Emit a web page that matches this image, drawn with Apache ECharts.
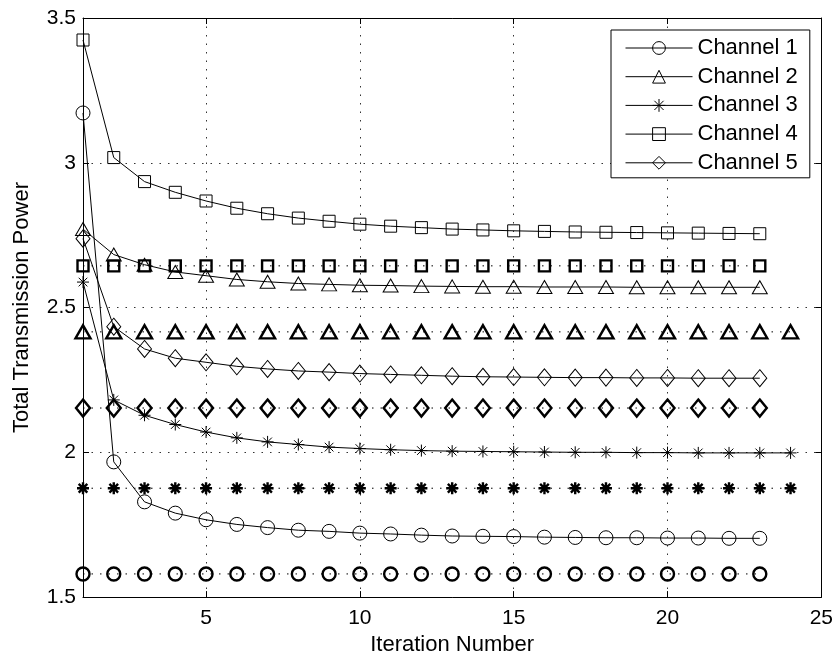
<!DOCTYPE html>
<html><head><meta charset="utf-8">
<script src="https://cdn.jsdelivr.net/npm/echarts@6/dist/echarts.min.js"></script>
<style>html,body{margin:0;padding:0;background:#fff}#c{width:836px;height:661px}</style>
</head><body><div id="c"></div><script>
// ---- data ----
const iter23 = [1,2,3,4,5,6,7,8,9,10,11,12,13,14,15,16,17,18,19,20,21,22,23];
const iter24 = [1,2,3,4,5,6,7,8,9,10,11,12,13,14,15,16,17,18,19,20,21,22,23,24];
const channelNames = ['Channel 1','Channel 2','Channel 3','Channel 4','Channel 5'];
const ch1 = [3.172,1.967,1.829,1.790,1.767,1.751,1.740,1.731,1.727,1.721,1.718,1.714,1.711,1.710,1.709,1.707,1.706,1.705,1.705,1.704,1.704,1.703,1.703];
const ch2 = [2.771,2.683,2.648,2.623,2.610,2.597,2.589,2.583,2.580,2.577,2.576,2.574,2.573,2.572,2.572,2.571,2.571,2.571,2.570,2.570,2.570,2.570,2.570];
const ch3 = [2.588,2.181,2.128,2.096,2.070,2.050,2.036,2.027,2.018,2.013,2.009,2.006,2.004,2.003,2.002,2.001,2.000,2.000,1.999,1.999,1.998,1.998,1.998,1.998];
const ch4 = [3.424,3.018,2.935,2.898,2.868,2.843,2.824,2.809,2.798,2.788,2.781,2.776,2.771,2.768,2.765,2.763,2.761,2.760,2.759,2.758,2.757,2.756,2.755];
const ch5 = [2.738,2.434,2.357,2.325,2.311,2.297,2.288,2.281,2.277,2.272,2.269,2.266,2.263,2.261,2.260,2.259,2.258,2.258,2.257,2.257,2.256,2.256,2.256];
// constant reference levels
const level1 = 1.580, level2 = 2.416, level3 = 1.876, level4 = 2.644, level5 = 2.153;
const xTicks = [5,10,15,20,25];
const xRange = [1,25];
const yRange = [1.5,3.5];
const yStep = 0.5;

// ---- chart ----
const FONT = "'Liberation Sans', Arial, sans-serif";
const starPath = 'path://M0,-1L0,1M-1,0L1,0M-0.72,-0.72L0.72,0.72M-0.72,0.72L0.72,-0.72';
const pairs = (xs, ys) => xs.map((x, i) => [x, ys[i]]);
const constPairs = (xs, v) => xs.map(x => [x, v]);

function mainSeries(name, data, symbol, size) {
  return {
    name, type: 'line', data, symbol, symbolSize: size, showSymbol: true,
    lineStyle: { color: '#000', width: 1 },
    itemStyle: { color: 'rgba(0,0,0,0)', borderColor: '#000', borderWidth: 1 },
    emphasis: { disabled: true }, animation: false, z: 3
  };
}
function levelSeries(name, data, symbol, size) {
  return {
    name, type: 'line', data, symbol, symbolSize: size, showSymbol: true,
    lineStyle: { color: '#000', width: 1, type: [1.5, 7] },
    itemStyle: { color: 'rgba(0,0,0,0)', borderColor: '#000', borderWidth: 2.4 },
    emphasis: { disabled: true }, animation: false, z: 2
  };
}

const axisCommonX = {
  type: 'value', min: xRange[0], max: xRange[1],
  axisLine: { show: true, onZero: false, lineStyle: { color: '#000', width: 1 } },
};
const axisCommonY = {
  type: 'value', min: yRange[0], max: yRange[1], interval: yStep,
  axisLine: { show: true, onZero: false, lineStyle: { color: '#000', width: 1 } },
};

const option = {
  backgroundColor: '#fff',
  animation: false,
  grid: { left: 83, right: 14, top: 18, bottom: 61, containLabel: false },
  xAxis: [
    Object.assign({}, axisCommonX, {
      position: 'bottom',
      name: 'Iteration Number', nameLocation: 'middle', nameGap: 36,
      nameTextStyle: { fontFamily: FONT, fontSize: 22, color: '#000' },
      axisTick: { show: true, inside: true, length: 6, customValues: xTicks, lineStyle: { color: '#000' } },
      axisLabel: { show: true, customValues: xTicks, margin: 11, fontFamily: FONT, fontSize: 21, color: '#000' },
      splitLine: { show: true, lineStyle: { color: '#333', width: 1, type: [1.5, 7] } }
    }),
    Object.assign({}, axisCommonX, {
      position: 'top',
      axisTick: { show: true, inside: true, length: 6, customValues: xTicks, lineStyle: { color: '#000' } },
      axisLabel: { show: false },
      splitLine: { show: false }
    })
  ],
  yAxis: [
    Object.assign({}, axisCommonY, {
      position: 'left',
      name: 'Total Transmission Power', nameLocation: 'middle', nameGap: 50, nameRotate: 90,
      nameTextStyle: { fontFamily: FONT, fontSize: 22, color: '#000' },
      axisTick: { show: true, inside: true, length: 6, lineStyle: { color: '#000' } },
      axisLabel: { show: true, margin: 7, fontFamily: FONT, fontSize: 21, color: '#000' },
      splitLine: { show: true, lineStyle: { color: '#333', width: 1, type: [1.5, 7] } }
    }),
    Object.assign({}, axisCommonY, {
      position: 'right',
      axisTick: { show: true, inside: true, length: 6, lineStyle: { color: '#000' } },
      axisLabel: { show: false },
      splitLine: { show: false }
    })
  ],
  legend: {
    data: channelNames,
    orient: 'vertical', left: 611, top: 30,
    padding: [7, 12, 4, 14],
    itemWidth: 67, itemHeight: 16, itemGap: 6.7,
    backgroundColor: '#fff', borderColor: '#000', borderWidth: 1,
    textStyle: { fontFamily: FONT, fontSize: 22, color: '#000', lineHeight: 22 },
    itemStyle: { color: 'rgba(0,0,0,0)', borderColor: '#000', borderWidth: 1 },
    lineStyle: { color: '#000', width: 1, type: 'solid' },
    selectedMode: false
  },
  series: [
    levelSeries('Level 1', constPairs(iter23, level1), 'circle', 13),
    levelSeries('Level 2', constPairs(iter24, level2), 'triangle', [15, 13]),
    levelSeries('Level 3', constPairs(iter24, level3), starPath, 12),
    levelSeries('Level 4', constPairs(iter23, level4), 'rect', 11),
    levelSeries('Level 5', constPairs(iter23, level5), 'diamond', [14, 17]),
    mainSeries(channelNames[0], pairs(iter23, ch1), 'circle', 14),
    mainSeries(channelNames[1], pairs(iter23, ch2), 'triangle', [15, 13]),
    mainSeries(channelNames[2], pairs(iter24, ch3), starPath, 12),
    mainSeries(channelNames[3], pairs(iter23, ch4), 'rect', 12),
    mainSeries(channelNames[4], pairs(iter23, ch5), 'diamond', [14, 17])
  ]
};
const chart = echarts.init(document.getElementById('c'), null, { renderer: 'canvas' });
chart.setOption(option);
</script></body></html>
